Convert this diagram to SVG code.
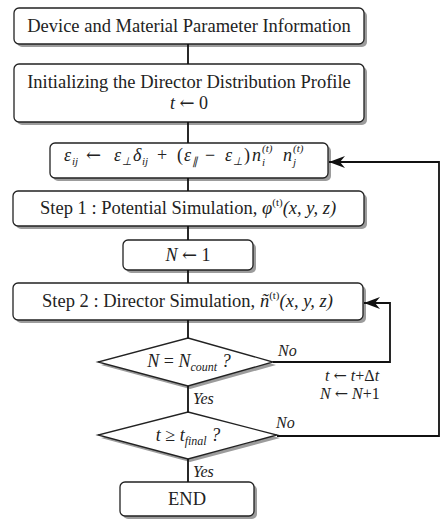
<svg xmlns="http://www.w3.org/2000/svg" width="442" height="526" viewBox="0 0 442 526">
<defs>
<style>
.bx{fill:#fff;stroke:#222;stroke-width:1.3}
.sh{fill:#9c9c9c}
.ln{fill:none;stroke:#111;stroke-width:1.8}
text{font-family:"Liberation Serif","Times New Roman",serif;fill:#222}
.t{font-size:18.5px}
.m{font-size:18px;font-style:italic}
.up{font-style:normal}
.ar{font-family:"DejaVu Serif",serif;font-style:normal}
.s{font-size:11px;font-style:italic}
.lb{font-size:16px;font-style:italic}
</style>
<marker id="ah" viewBox="0 0 16 12" refX="16" refY="6" markerWidth="16" markerHeight="12" markerUnits="userSpaceOnUse" orient="auto">
<path d="M16,6 L0,0 L5,6 L0,12 Z" fill="#111"/>
</marker>
</defs>
<rect width="442" height="526" fill="#fff"/>

<g id="n1">
<rect class="sh" x="17" y="11" width="350" height="36" rx="5"/>
<rect class="bx" x="14" y="8" width="350" height="36" rx="5"/>
<text class="t" x="189" y="32" text-anchor="middle">Device and Material Parameter Information</text>
</g>

<g id="n2">
<rect class="sh" x="17" y="67" width="350" height="58" rx="5"/>
<rect class="bx" x="14" y="64" width="350" height="58" rx="5"/>
<text class="t" x="189" y="88" text-anchor="middle">Initializing the Director Distribution Profile</text>
<text class="m" x="189" y="109" text-anchor="middle">t <tspan class="ar">←</tspan><tspan class="up"> 0</tspan></text>
</g>

<g id="n3">
<rect class="sh" x="53" y="146" width="278" height="35" rx="5"/>
<rect class="bx" x="50" y="143" width="278" height="35" rx="5"/>
<text class="m" x="64" y="161">ε</text>
<text class="s" x="72" y="165">ij</text>
<text class="m ar" x="86" y="161">←</text>
<text class="m" x="114" y="161">ε</text>
<text class="s up" x="122" y="165">⊥</text>
<text class="m" x="133" y="161">δ</text>
<text class="s" x="142" y="165">ij</text>
<text class="m up" x="157" y="161">+</text>
<text class="m up" x="177" y="161">(</text>
<text class="m" x="184" y="161">ε</text>
<text class="s up" x="192" y="165">∥</text>
<text class="m up" x="205" y="161">−</text>
<text class="m" x="225" y="161">ε</text>
<text class="s up" x="233" y="165">⊥</text>
<text class="m up" x="244" y="161">)</text>
<text class="m" x="252" y="161">n</text>
<text class="s" x="262" y="166">i</text>
<text class="s" x="262" y="152">(t)</text>
<text class="m" x="283" y="161">n</text>
<text class="s" x="293" y="166">j</text>
<text class="s" x="293" y="152">(t)</text>
</g>

<g id="n4">
<rect class="sh" x="16" y="194" width="351" height="35" rx="5"/>
<rect class="bx" x="13" y="191" width="351" height="35" rx="5"/>
<text class="t" x="40" y="214">Step 1 : Potential Simulation, <tspan font-style="italic">φ</tspan><tspan font-size="11" dy="-8">(t)</tspan><tspan dy="8" font-style="italic">(x, y, z)</tspan></text>
</g>

<g id="n5">
<rect class="sh" x="126" y="243" width="130" height="30" rx="5"/>
<rect class="bx" x="123" y="240" width="130" height="30" rx="5"/>
<text class="m" x="188" y="261" text-anchor="middle">N <tspan class="ar">←</tspan><tspan class="up"> 1</tspan></text>
</g>

<g id="n6">
<rect class="sh" x="16" y="286" width="350" height="37" rx="5"/>
<rect class="bx" x="13" y="283" width="350" height="37" rx="5"/>
<text class="t" x="42" y="307">Step 2 : Director Simulation,  <tspan font-style="italic">ñ</tspan><tspan font-size="11" dy="-8">(t)</tspan><tspan dy="8" font-style="italic">(x, y, z)</tspan></text>
</g>

<g id="d1">
<polygon class="sh" points="190,341 276,365 190,389 101,365"/>
<polygon class="bx" points="188,338 273,362 188,386 98,362"/>
<text class="m" x="189" y="367" text-anchor="middle">N <tspan class="up">=</tspan> N<tspan font-size="12" dy="4">count</tspan><tspan dy="-4"> ?</tspan></text>
</g>

<g id="d2">
<polygon class="sh" points="190,415 280,438 190,462 101,438"/>
<polygon class="bx" points="188,412 277,435 188,459 98,435"/>
<text class="m" x="188" y="441" text-anchor="middle">t <tspan class="up">≥</tspan> t<tspan font-size="12" dy="4">final</tspan><tspan dy="-4"> ?</tspan></text>
</g>

<g id="n7">
<rect class="sh" x="123" y="485" width="134" height="34" rx="5"/>
<rect class="bx" x="120" y="482" width="134" height="34" rx="5"/>
<text class="t" x="187" y="505" text-anchor="middle">END</text>
</g>

<g id="connectors">
<line class="ln" x1="188" y1="44" x2="188" y2="64"/>
<line class="ln" x1="188" y1="122" x2="188" y2="143"/>
<line class="ln" x1="188" y1="178" x2="188" y2="191"/>
<line class="ln" x1="188" y1="226" x2="188" y2="240"/>
<line class="ln" x1="188" y1="270" x2="188" y2="283"/>
<line class="ln" x1="188" y1="320" x2="188" y2="338"/>
<line class="ln" x1="188" y1="386" x2="188" y2="412"/>
<line class="ln" x1="188" y1="459" x2="188" y2="482"/>
<polyline class="ln" points="273,362 390,362 390,303 364,303" marker-end="url(#ah)"/>
<polyline class="ln" points="277,436 439,436 439,162 329,162" marker-end="url(#ah)"/>
<text class="lb" x="278" y="356">No</text>
<text class="lb" x="276" y="428">No</text>
<text class="lb" x="193" y="404">Yes</text>
<text class="lb" x="193" y="477">Yes</text>
<text class="lb" x="325" y="381">t <tspan class="ar">←</tspan> t<tspan class="up">+Δ</tspan>t</text>
<text class="lb" x="320" y="399">N <tspan class="ar">←</tspan> N<tspan class="up">+1</tspan></text>
</g>
</svg>
